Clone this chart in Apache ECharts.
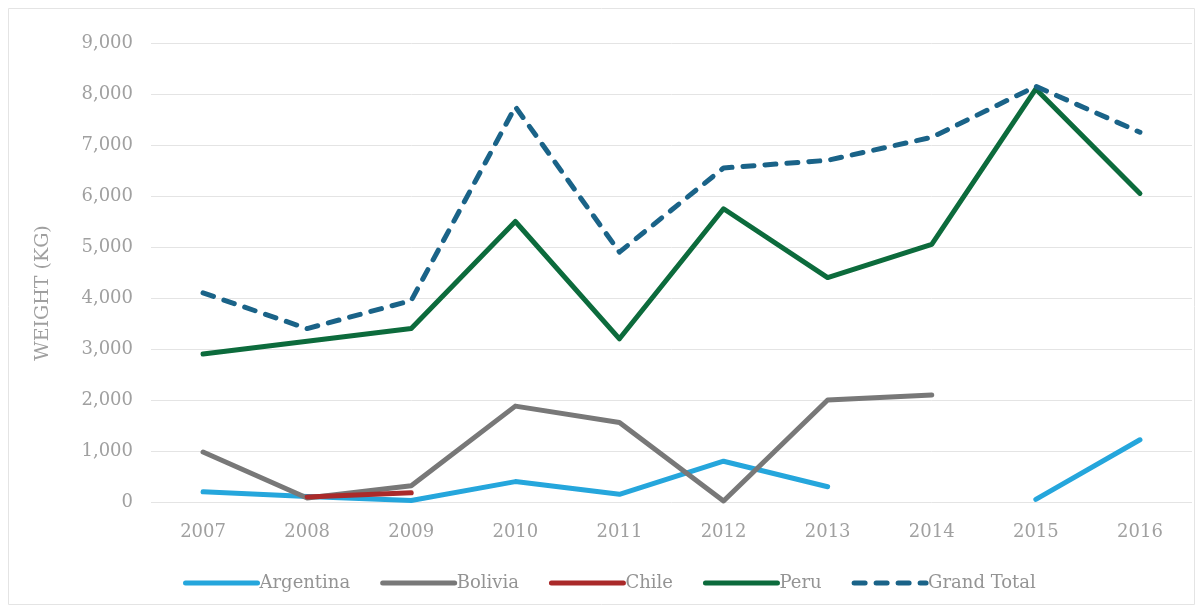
<!DOCTYPE html>
<html>
<head>
<meta charset="utf-8">
<script src="https://cdn.jsdelivr.net/npm/echarts@6/dist/echarts.min.js"></script>
<style>
  html, body { margin: 0; padding: 0; background: #fff; }
  #chart { width: 1203px; height: 612px; }
</style>
</head>
<body>
<div id="chart"></div>
<script>
// Annual weight by country of origin (kg)
const years = ['2007', '2008', '2009', '2010', '2011', '2012', '2013', '2014', '2015', '2016'];
const argentina = [200, 110, 30, 400, 150, 800, 300, null, 50, 1220];
const bolivia = [980, 80, 320, 1880, 1560, 20, 2000, 2100, null, null];
const chile = [null, 100, 180, null, null, null, null, null, null, null];
const peru = [2900, 3150, 3400, 5500, 3200, 5750, 4400, 5050, 8100, 6050];
const grandTotal = [4100, 3400, 3950, 7750, 4900, 6550, 6700, 7150, 8150, 7250];

const FONT = 'DejaVu Serif';
const TEXT = '#a0a0a0';

function lineSeries(name, data, color, dash) {
  return {
    name: name,
    type: 'line',
    data: data,
    symbol: 'none',
    connectNulls: false,
    lineStyle: { color: color, width: 5, cap: 'round', join: 'round', type: dash || 'solid' },
    itemStyle: { color: color }
  };
}

const chart = echarts.init(document.getElementById('chart'), null, { renderer: 'canvas' });
chart.setOption({
  animation: false,
  backgroundColor: '#ffffff',
  graphic: [
    {
      type: 'rect',
      shape: { x: 8.5, y: 8.5, width: 1186, height: 596 },
      style: { fill: 'none', stroke: '#e4e4e4', lineWidth: 1 },
      silent: true
    },
    {
      type: 'text',
      x: 43,
      y: 293,
      rotation: Math.PI / 2,
      style: {
        text: 'WEIGHT (KG)',
        fontFamily: FONT,
        fontSize: 19,
        fill: TEXT,
        align: 'center',
        verticalAlign: 'middle'
      },
      silent: true
    }
  ],
  grid: { left: 151, right: 11, top: 43, bottom: 110, containLabel: false },
  legend: {
    top: 569,
    left: 178,
    itemWidth: 72,
    itemHeight: 14,
    itemGap: 30,
    itemStyle: { opacity: 0 },
    lineStyle: { width: 5, cap: 'round' },
    textStyle: { fontFamily: FONT, fontSize: 18, color: '#949494', padding: [0, 0, 0, -3] },
    data: ['Argentina', 'Bolivia', 'Chile', 'Peru', 'Grand Total']
  },
  xAxis: {
    type: 'category',
    data: years,
    boundaryGap: true,
    axisLine: { show: false },
    axisTick: { show: false },
    axisLabel: { fontFamily: FONT, fontSize: 18, color: TEXT, margin: 21 }
  },
  yAxis: {
    type: 'value',
    min: 0,
    max: 9000,
    interval: 1000,
    axisLine: { show: false },
    axisTick: { show: false },
    axisLabel: {
      fontFamily: FONT, fontSize: 18, color: TEXT, margin: 18,
      formatter: v => v.toLocaleString('en-US')
    },
    splitLine: { lineStyle: { color: '#e4e4e4', width: 1 } }
  },
  series: [
    lineSeries('Argentina', argentina, '#25a6dc'),
    lineSeries('Bolivia', bolivia, '#787878'),
    lineSeries('Chile', chile, '#aa2a2a'),
    lineSeries('Peru', peru, '#0c6b3c'),
    lineSeries('Grand Total', grandTotal, '#1a6388', [11, 11])
  ]
});
</script>
</body>
</html>
